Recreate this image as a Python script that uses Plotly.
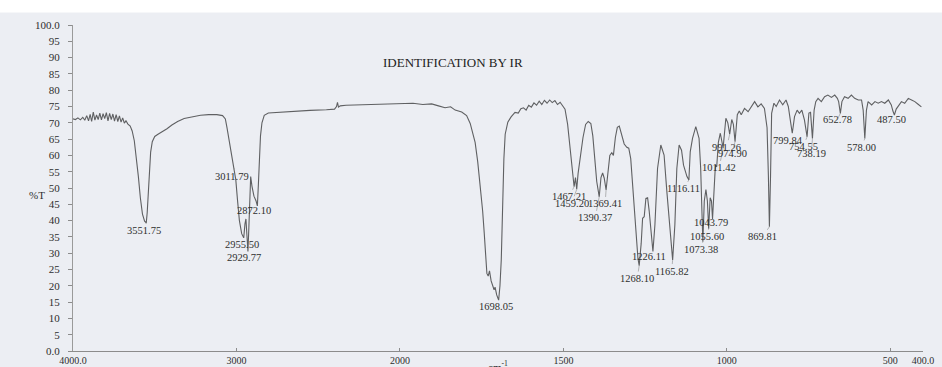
import numpy as np
import plotly.graph_objects as go

# ---------------- data ----------------
wavenumber = [
    4000, 3985, 3970, 3955, 3940, 3928, 3916, 3905, 3895, 3886, 3876, 3866, 3856, 3846,
    3836, 3826, 3816, 3806, 3796, 3786, 3776, 3766, 3756, 3746, 3736, 3726, 3716, 3706,
    3696, 3686, 3676, 3664, 3650, 3638, 3625, 3612, 3600, 3588, 3575, 3562, 3551.75,
    3546, 3540, 3533, 3525, 3515, 3500, 3480, 3455, 3425, 3395, 3360, 3320, 3270, 3220,
    3170, 3120, 3085, 3068, 3058, 3048, 3035, 3022, 3011.79, 3004, 2994, 2982, 2968,
    2955.50, 2948, 2942, 2936, 2929.77, 2924, 2918, 2913, 2905, 2893, 2880, 2872.10,
    2866, 2860, 2853, 2844, 2830, 2805, 2750, 2650, 2550, 2450, 2400, 2388, 2382, 2376,
    2365, 2330, 2250, 2150, 2080, 2000, 1960, 1930, 1903, 1882, 1862, 1845, 1831, 1811,
    1796, 1785, 1770, 1762, 1754, 1747, 1742, 1738, 1734, 1730, 1726, 1721, 1716, 1712,
    1709, 1704, 1698.05, 1694, 1690, 1686, 1682, 1678, 1670, 1660, 1648, 1638, 1630,
    1622, 1614, 1606, 1598, 1590, 1582, 1574, 1566, 1558, 1550, 1542, 1534, 1526, 1518,
    1510, 1502, 1495, 1487, 1480, 1474, 1467.21, 1463, 1459.20, 1455, 1448, 1440, 1432,
    1424, 1416, 1410, 1404, 1398, 1390.37, 1385, 1380, 1375, 1369.41, 1364, 1358, 1352,
    1347, 1341, 1335, 1329, 1322, 1314, 1306, 1300, 1294, 1288, 1282, 1276, 1272,
    1268.10, 1262, 1257.7, 1252.8, 1247.6, 1242.4, 1237.6, 1232.4, 1226.11, 1220, 1212,
    1202, 1192, 1183.5, 1173.4, 1165.82, 1159, 1153, 1146, 1138.6, 1132.5, 1127.6, 1122,
    1116.11, 1112, 1105, 1095, 1085, 1080, 1076, 1073.38, 1069, 1064, 1059.5, 1055.60,
    1051, 1047, 1043.79, 1039, 1035, 1031, 1026, 1020, 1011.42, 1003, 997, 991.26, 985,
    980, 974.90, 968, 962, 956, 946, 935, 925, 915, 905, 895, 885, 877, 873, 869.81,
    866.5, 863, 856, 849, 839, 829, 819, 812, 806, 799.84, 793, 785, 778, 770.6, 762.7,
    754.55, 749, 744, 738.19, 733, 728, 721, 711, 701, 691, 680, 670, 662, 658, 652.78,
    648, 640, 629, 619, 609, 598, 588, 583, 578.00, 573, 568, 557, 547, 537, 527, 517,
    506, 497, 492, 487.50, 482, 476, 466, 456, 445, 435, 425, 415, 405,
]
transmittance = [
    71.2, 71.0, 71.5, 70.9, 71.7, 70.8, 72.2, 70.6, 72.6, 70.4, 73.3, 70.8, 72.4, 71.0,
    73.0, 70.9, 72.8, 71.3, 73.1, 70.6, 72.9, 71.0, 72.7, 70.5, 72.5, 70.4, 72.1, 70.2,
    71.5, 69.9, 70.6, 69.6, 69.0, 67.5, 64.5, 59.5, 53.5, 47.0, 42.0, 39.8, 39.3,
    42.5, 49.0, 56.0, 61.0, 64.2, 65.8, 66.5, 67.2, 68.2, 69.3, 70.4, 71.3, 71.9, 72.3,
    72.5, 72.5, 72.2, 71.2, 68.5, 65.5, 62.0, 58.0, 56.0, 52.5, 46.5, 40.0, 36.0,
    34.7, 39.0, 40.5, 35.5, 30.5, 38.0, 49.0, 53.5, 50.5, 47.5, 46.0, 44.5,
    51.0, 59.0, 66.0, 70.0, 72.3, 73.0, 73.2, 73.5, 73.8, 74.0, 74.2, 75.0, 76.3, 74.8,
    75.2, 75.4, 75.5, 75.6, 75.6, 75.8, 76.0, 75.6, 75.8, 75.2, 74.6, 74.9, 73.9, 73.3,
    72.2, 69.8, 64.0, 58.0, 51.0, 43.0, 36.0, 28.0, 23.8, 23.0, 24.6, 21.5, 19.5, 18.8,
    19.6, 17.2, 15.6, 20.0, 28.0, 45.0, 59.0, 66.5, 70.2, 71.8, 73.2, 73.0, 74.3,
    74.6, 73.9, 75.4, 74.8, 76.1, 75.4, 76.6, 75.6, 76.9, 76.0, 77.0, 76.2, 76.8, 75.6,
    76.3, 75.2, 74.2, 69.5, 62.0, 56.0, 50.4, 53.2, 49.6, 54.5, 59.5, 65.5, 69.5,
    70.4, 69.8, 66.0, 59.0, 52.0, 47.3, 53.2, 54.6, 53.0, 49.4, 55.5, 60.0, 60.8,
    60.0, 65.5, 68.6, 69.0, 66.5, 63.5, 62.5, 62.2, 59.0, 51.0, 42.0, 33.0, 28.5,
    26.2, 33.0, 40.7, 41.2, 46.8, 47.0, 43.0, 36.6, 30.5, 38.7, 56.0,
    63.2, 60.1, 48.9, 35.6, 27.9, 38.7, 56.0, 63.2, 61.6, 57.0, 55.5, 53.5,
    52.5, 61.1, 65.2, 68.8, 65.2, 56.0, 42.0, 33.5, 46.0, 49.5, 46.0, 37.5,
    47.0, 46.0, 40.5, 50.0, 57.0, 56.5, 64.0, 66.8, 62.3, 71.4, 70.0, 66.5, 71.0,
    69.5, 64.2, 72.5, 73.6, 72.5, 74.4, 73.4, 74.9, 76.5, 74.9, 75.8, 74.4, 68.5, 54.0, 38.1,
    53.0, 72.9, 76.0, 75.0, 77.0, 75.5, 77.0, 75.0, 70.9, 66.8, 71.9, 73.9, 72.9, 73.9, 70.9,
    65.7, 73.0, 73.2, 65.2, 73.9, 76.5, 77.5, 76.5, 78.0, 78.5, 77.8, 78.5, 77.5, 76.5, 72.9,
    76.5, 78.0, 77.5, 78.5, 77.5, 77.0, 77.0, 73.9, 65.2, 73.9, 76.5, 75.5, 76.5, 76.0, 76.5, 76.0,
    77.0, 75.5, 73.6, 72.4, 74.2, 75.0, 76.5, 76.0, 77.5, 77.0, 76.5, 75.7, 74.9,
]

peak_wavenumbers = [3551.75, 3011.79, 2955.50, 2929.77, 2872.10, 1698.05, 1467.21, 1459.20,
                    1390.37, 1369.41, 1268.10, 1226.11, 1165.82, 1116.11, 1073.38, 1055.60,
                    1043.79, 1011.42, 991.26, 974.90, 869.81, 799.84, 754.55, 738.19,
                    652.78, 578.00, 487.50]
peak_labels = ["3551.75", "3011.79", "2955.50", "2929.77", "2872.10", "1698.05", "1467.21",
               "1459.20", "1390.37", "1369.41", "1268.10", "1226.11", "1165.82", "1116.11",
               "1073.38", "1055.60", "1043.79", "1011.42", "991.26", "974.90", "869.81",
               "799.84", "754.55", "738.19", "652.78", "578.00", "487.50"]

x_tick_wavenumbers = [4000, 3000, 2000, 1500, 1000, 500, 400]
x_tick_labels = ["4000.0", "3000", "2000", "1500", "1000", "500", "400.0"]
y_tick_values = list(range(0, 101, 5))
y_tick_labels = ["0.0"] + [str(v) for v in range(5, 100, 5)] + ["100.0"]

# ---------------- styling (label offsets in pixels) ----------------
label_offsets = [(-2, 8), (-3, 8), (-2, 7), (-4, 6), (-3, 5), (-3, 6), (-5, 10), (-5, 14),
                 (-4, 21), (-1, 14), (-2, 13), (-4, 5), (-1, 11), (-5, 9), (-2, 8), (-2, 8),
                 (-2, 4), (-4, 20), (-3, 13), (-3, 12), (-7, 10), (-4, 7), (-4, 10), (-1, 15),
                 (-3, 6), (-3, 9), (-3, 5)]


def to_axis(wn):
    """IR chart scale: 4000-2000 compressed by a factor two."""
    wn = np.asarray(wn, dtype=float)
    return np.where(wn > 2000, 2000 + (wn - 2000) / 2.0, wn)


wn_arr = np.array(wavenumber, dtype=float)
t_arr = np.array(transmittance, dtype=float)
u = to_axis(wn_arr)

SERIF = "Liberation Serif, Times New Roman, serif"
TEXT = "#2e2e2e"

fig = go.Figure()
fig.add_trace(go.Scatter(x=u, y=t_arr, mode="lines",
                         line=dict(color="#5f6062", width=1.1),
                         hoverinfo="skip", showlegend=False))

# peak annotations
order = np.argsort(wn_arr)
for wn, lab, (ax, ay) in zip(peak_wavenumbers, peak_labels, label_offsets):
    tval = float(np.interp(wn, wn_arr[order], t_arr[order]))
    fig.add_annotation(x=float(to_axis(wn)), y=tval, text=lab, showarrow=True,
                       arrowhead=0, arrowwidth=0.6, arrowcolor="#8a8a8a",
                       ax=ax, ay=ay, standoff=0,
                       font=dict(family=SERIF, size=10.5, color=TEXT))

fig.add_annotation(x=0.4465, y=0.913, xref="paper", yref="paper",
                   text="IDENTIFICATION BY IR", showarrow=False,
                   font=dict(family=SERIF, size=13, color="#222222"))
fig.add_annotation(x=-0.054, y=0.4785, xref="paper", yref="paper", text="%T",
                   showarrow=False, font=dict(family=SERIF, size=11, color=TEXT))
fig.add_annotation(x=0.5, y=-0.045, xref="paper", yref="paper", yanchor="middle",
                   text="cm<sup>-1</sup>", showarrow=False,
                   font=dict(family=SERIF, size=11, color=TEXT))

# white band at the very top of the scanned page
fig.add_shape(type="rect", xref="paper", yref="paper", x0=-0.2, x1=1.1, y0=1.038, y1=1.2,
              fillcolor="#ffffff", line=dict(width=0), layer="below")

fig.update_layout(
    width=942, height=367, autosize=False,
    margin=dict(l=73, r=19, t=25, b=16, autoexpand=False),
    paper_bgcolor="#eceef3", plot_bgcolor="#eceef3",
    xaxis=dict(range=[3000, 400], tickmode="array", automargin=False,
               tickvals=to_axis(x_tick_wavenumbers).tolist(), ticktext=x_tick_labels,
               showgrid=False, zeroline=False, showline=True, linecolor="#8c8c8c",
               linewidth=1, ticks="inside", ticklen=3, tickcolor="#8c8c8c",
               ticklabelstandoff=0,
               tickfont=dict(family=SERIF, size=10, color=TEXT)),
    yaxis=dict(range=[0, 100], tickmode="array", tickvals=y_tick_values, automargin=False,
               ticktext=y_tick_labels, showgrid=False, zeroline=False, showline=True,
               linecolor="#9a9a9a", linewidth=1, ticks="outside", ticklen=4,
               tickcolor="#8c8c8c", ticklabelstandoff=6,
               tickfont=dict(family=SERIF, size=11, color=TEXT)),
)

fig.write_html("out.html")
